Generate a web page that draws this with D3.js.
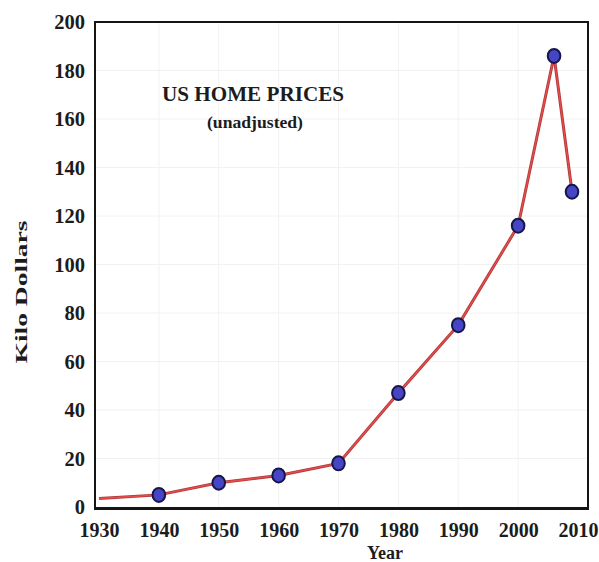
<!DOCTYPE html>
<html>
<head>
<meta charset="utf-8">
<script src="https://cdn.jsdelivr.net/npm/d3@7"></script>
<style>
  body { margin: 0; background: #ffffff; }
  text { font-family: "Liberation Serif", "Times New Roman", serif; font-weight: bold; fill: #1c1c1c; }
</style>
</head>
<body>
<svg id="chart"></svg>
<script>
// data (kilo dollars)
var years = [1930, 1940, 1950, 1960, 1970, 1980, 1990, 2000, 2006, 2009];
var prices = [3.5, 5, 10, 13, 18, 47, 75, 116, 186, 130];
var markerYears = [1940, 1950, 1960, 1970, 1980, 1990, 2000, 2006, 2009];
var xTicks = [1930, 1940, 1950, 1960, 1970, 1980, 1990, 2000, 2010];
var yTicks = [0, 20, 40, 60, 80, 100, 120, 140, 160, 180, 200];

var width = 599;
var height = 562;

var svg = d3.select('#chart')
    .attr('width', width)
    .attr('height', height);

var x = d3.scaleLinear().domain([1930, 2010]).range([99, 578]);
var y = d3.scaleLinear().domain([0, 200]).range([507, 22]);

var frameLeft = 95, frameRight = 588, frameTop = 22, frameBottom = 508;

var points = years.map(function (d, i) {
    return { year: d, price: prices[i] };
});

// faint grid
var grid = svg.append('g');
grid.selectAll('line.h')
    .data(yTicks.slice(1, -1))
    .enter()
    .append('line')
    .attr('class', 'h')
    .attr('x1', frameLeft)
    .attr('x2', frameRight)
    .attr('y1', function (d) { return y(d); })
    .attr('y2', function (d) { return y(d); })
    .attr('stroke', '#f2f2f2')
    .attr('stroke-width', 1);

grid.selectAll('line.v')
    .data(xTicks.slice(1, -1))
    .enter()
    .append('line')
    .attr('class', 'v')
    .attr('x1', function (d) { return x(d); })
    .attr('x2', function (d) { return x(d); })
    .attr('y1', frameTop)
    .attr('y2', frameBottom)
    .attr('stroke', '#f2f2f2')
    .attr('stroke-width', 1);

// frame
svg.append('rect')
    .attr('x', frameLeft)
    .attr('y', frameTop)
    .attr('width', frameRight - frameLeft)
    .attr('height', frameBottom - frameTop)
    .attr('fill', 'none')
    .attr('stroke', '#151515')
    .attr('stroke-width', 2);

svg.append('line')
    .attr('x1', frameLeft - 1)
    .attr('x2', frameRight + 1)
    .attr('y1', frameBottom + 0.5)
    .attr('y2', frameBottom + 0.5)
    .attr('stroke', '#151515')
    .attr('stroke-width', 3);

// axes (labels only, frame drawn above)
var yAxis = svg.append('g')
    .attr('transform', 'translate(' + 85 + ',0)')
    .call(d3.axisLeft(y).tickValues(yTicks).tickSize(0).tickPadding(0));
yAxis.select('.domain').remove();
yAxis.selectAll('text')
    .attr('font-size', 20.5)
    .attr('dy', '0.34em')
    .style('font-family', '"Liberation Serif", serif')
    .style('font-weight', 'bold')
    .attr('fill', '#1c1c1c');

var xAxis = svg.append('g')
    .attr('transform', 'translate(0,' + 523 + ')')
    .call(d3.axisBottom(x).tickValues(xTicks).tickFormat(d3.format('d')).tickSize(0).tickPadding(0));
xAxis.select('.domain').remove();
xAxis.selectAll('text')
    .attr('font-size', 20)
    .attr('dy', '0.71em')
    .style('font-family', '"Liberation Serif", serif')
    .style('font-weight', 'bold')
    .attr('fill', '#1c1c1c');

// price line
var line = d3.line()
    .x(function (d) { return x(d.year); })
    .y(function (d) { return y(d.price); });

svg.append('path')
    .datum(points)
    .attr('d', line)
    .attr('fill', 'none')
    .attr('stroke', '#b03a3a')
    .attr('stroke-width', 3);

svg.append('path')
    .datum(points)
    .attr('d', line)
    .attr('fill', 'none')
    .attr('stroke', '#e84c4c')
    .attr('stroke-width', 1.3);

// markers
svg.append('g')
    .selectAll('ellipse')
    .data(points.filter(function (d) { return markerYears.indexOf(d.year) >= 0; }))
    .enter()
    .append('ellipse')
    .attr('cx', function (d) { return x(d.year); })
    .attr('cy', function (d) { return y(d.price); })
    .attr('rx', 6.3)
    .attr('ry', 7)
    .attr('fill', '#4646c4')
    .attr('stroke', '#16164a')
    .attr('stroke-width', 2);

// title
svg.append('text')
    .attr('x', 253)
    .attr('y', 101)
    .attr('text-anchor', 'middle')
    .attr('font-size', 21)
    .attr('textLength', 182)
    .attr('lengthAdjust', 'spacingAndGlyphs')
    .text('US HOME PRICES');

svg.append('text')
    .attr('x', 255)
    .attr('y', 128)
    .attr('text-anchor', 'middle')
    .attr('font-size', 16)
    .attr('textLength', 96)
    .attr('lengthAdjust', 'spacingAndGlyphs')
    .text('(unadjusted)');

// axis titles
svg.append('text')
    .attr('transform', 'translate(27,' + 292 + ') rotate(-90)')
    .attr('text-anchor', 'middle')
    .attr('font-size', 17)
    .attr('textLength', 143)
    .attr('lengthAdjust', 'spacingAndGlyphs')
    .text('Kilo Dollars');

svg.append('text')
    .attr('x', 385)
    .attr('y', 559)
    .attr('text-anchor', 'middle')
    .attr('font-size', 18)
    .text('Year');
</script>
</body>
</html>
